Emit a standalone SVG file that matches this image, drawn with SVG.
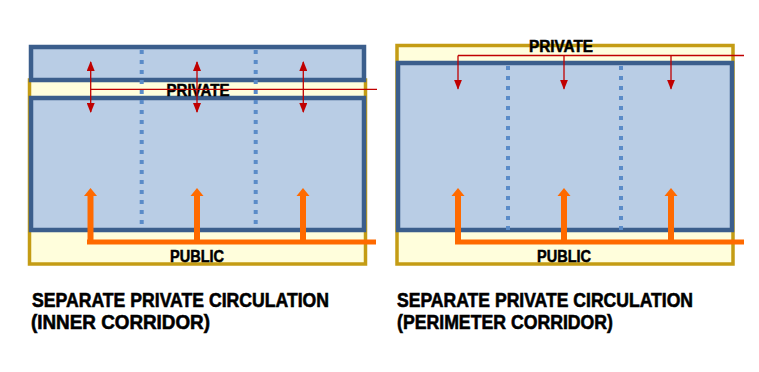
<svg xmlns="http://www.w3.org/2000/svg" width="759" height="372" viewBox="0 0 759 372">
<defs>
<style>
.zone{fill:#FFFEDC;stroke:#C49C14;stroke-width:3.5}
.unit{fill:#B9CDE5;stroke:#3B5E8C;stroke-width:4.5}
.party{stroke:#5A8BC8;stroke-width:4;stroke-dasharray:4 6;fill:none}
.priv{stroke:#C00000;stroke-width:1.3;fill:none}
.pub{stroke:#FF6A00;stroke-width:5;fill:none}
.pubv{stroke:#FF6A00;stroke-width:6;fill:none}
.ohead{fill:#FF6A00}
.lbl{font-family:"Liberation Sans",Arial,sans-serif;font-weight:bold;font-size:16px;fill:#000;stroke:#000;stroke-width:0.5;text-anchor:middle}
.cap{font-family:"Liberation Sans",Arial,sans-serif;font-weight:bold;font-size:20px;fill:#000;stroke:#000;stroke-width:0.6}
</style>
<marker id="rh" viewBox="0 0 10 8" refX="9" refY="4" markerWidth="10" markerHeight="8" markerUnits="userSpaceOnUse" orient="auto-start-reverse">
<path d="M0,0 L10,4 L0,8 Z" fill="#C00000"/>
</marker>
</defs>
<rect width="759" height="372" fill="#fff"/>

<g id="left-diagram">
<g id="left-public-zone"><rect class="zone" x="29.5" y="80" width="336" height="184"/></g>
<g id="left-top-units"><rect class="unit" x="31" y="47" width="333" height="33"/></g>
<g id="left-bottom-units"><rect class="unit" x="31" y="98" width="333" height="132"/></g>
<g id="left-party-walls">
<line class="party" x1="141.7" y1="50" x2="141.7" y2="230"/>
<line class="party" x1="255.7" y1="50" x2="255.7" y2="230"/>
</g>
<g id="left-private-label"><text class="lbl" x="198" y="95.5" textLength="63" lengthAdjust="spacingAndGlyphs">PRIVATE</text></g>
<g id="left-public-label"><text class="lbl" x="197" y="261.5" textLength="54" lengthAdjust="spacingAndGlyphs">PUBLIC</text></g>
</g>

<g id="right-diagram">
<g id="right-zone"><rect class="zone" x="397" y="45.5" width="336" height="218.5"/></g>
<g id="right-units"><rect class="unit" x="398" y="63" width="334" height="167"/></g>
<g id="right-party-walls">
<line class="party" x1="508" y1="66" x2="508" y2="230"/>
<line class="party" x1="621" y1="66" x2="621" y2="230"/>
</g>
<g id="right-private-label"><text class="lbl" x="561" y="52" textLength="64" lengthAdjust="spacingAndGlyphs">PRIVATE</text></g>
<g id="right-public-label"><text class="lbl" x="564" y="262" textLength="54" lengthAdjust="spacingAndGlyphs">PUBLIC</text></g>
</g>

<g id="connectors">
<line class="priv" x1="90.7" y1="89.3" x2="377" y2="89.3"/>
<line class="priv" x1="90.7" y1="62" x2="90.7" y2="112" marker-start="url(#rh)" marker-end="url(#rh)"/>
<line class="priv" x1="197" y1="62" x2="197" y2="112" marker-start="url(#rh)" marker-end="url(#rh)"/>
<line class="priv" x1="303.3" y1="62" x2="303.3" y2="112" marker-start="url(#rh)" marker-end="url(#rh)"/>

<polyline class="pub" points="376,242 87,242"/>
<line class="pubv" x1="90.5" y1="242" x2="90.5" y2="195"/>
<path class="ohead" d="M84,196 L90.5,188 L97,196 Z"/>
<line class="pubv" x1="197" y1="242" x2="197" y2="195"/>
<path class="ohead" d="M190.5,196 L197,188 L203.5,196 Z"/>
<line class="pubv" x1="303" y1="242" x2="303" y2="195"/>
<path class="ohead" d="M296.5,196 L303,188 L309.5,196 Z"/>

<line class="priv" x1="458" y1="55.5" x2="744" y2="55.5"/>
<line class="priv" x1="458" y1="55.5" x2="458" y2="88.7" marker-end="url(#rh)"/>
<line class="priv" x1="564" y1="55.5" x2="564" y2="88.7" marker-end="url(#rh)"/>
<line class="priv" x1="671" y1="55.5" x2="671" y2="88.7" marker-end="url(#rh)"/>

<polyline class="pub" points="744,242 455,242"/>
<line class="pubv" x1="458" y1="242" x2="458" y2="195"/>
<path class="ohead" d="M451.5,196 L458,188 L464.5,196 Z"/>
<line class="pubv" x1="564" y1="242" x2="564" y2="195"/>
<path class="ohead" d="M557.5,196 L564,188 L570.5,196 Z"/>
<line class="pubv" x1="671" y1="242" x2="671" y2="195"/>
<path class="ohead" d="M664.5,196 L671,188 L677.5,196 Z"/>
</g>

<g id="captions">
<text class="cap" x="32" y="307" textLength="297" lengthAdjust="spacingAndGlyphs">SEPARATE PRIVATE CIRCULATION</text>
<text class="cap" x="31" y="329" textLength="179" lengthAdjust="spacingAndGlyphs">(INNER CORRIDOR)</text>
<text class="cap" x="397" y="307" textLength="296" lengthAdjust="spacingAndGlyphs">SEPARATE PRIVATE CIRCULATION</text>
<text class="cap" x="397" y="329" textLength="216" lengthAdjust="spacingAndGlyphs">(PERIMETER CORRIDOR)</text>
</g>
</svg>
